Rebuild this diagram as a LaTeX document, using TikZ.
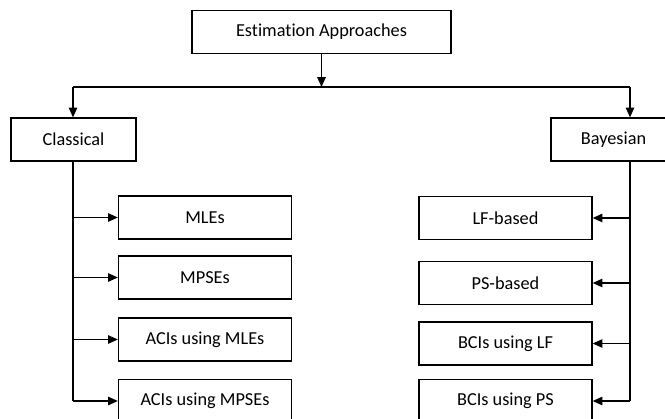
\documentclass[tikz,border=0pt]{standalone}
\usepackage{fontspec}
\setmainfont{Carlito}[Ligatures=NoCommon]
\usetikzlibrary{arrows.meta}

\begin{document}
\begin{tikzpicture}[x=0.025cm,y=-0.025cm,
        box/.style={draw,line width=1pt,minimum height=1.07cm,font=\fontsize{13}{15}\selectfont},
        headbox/.style={box,minimum width=6.47cm},
        groupbox/.style={box,minimum width=3.12cm},
        leafbox/.style={box,minimum width=4.32cm},
        conn/.style={line width=1pt,-{Triangle[length=7pt,width=6pt]}},
        trunk/.style={line width=1pt}]
    \useasboundingbox (0,0) rectangle (665,419);

    \node[headbox] (est) at (321.5,32) {Estimation Approaches};
    \node[groupbox] (cls) at (73.5,139.5) {Classical};
    \node[groupbox] (bay) at (613.5,139.5) {Bayesian};

    \node[leafbox] (mle) at (205,217.5) {MLEs};
    \node[leafbox] (mpse) at (205,277.5) {MPSEs};
    \node[leafbox] (acimle) at (205,339.5) {ACIs using MLEs};
    \node[leafbox] (acimpse) at (205,401) {ACIs using MPSEs};

    \node[leafbox] (lfb) at (505.5,218) {LF-based};
    \node[leafbox] (psb) at (505.5,283) {PS-based};
    \node[leafbox] (bcilf) at (505.5,343.5) {BCIs using LF};
    \node[leafbox] (bcips) at (505.5,401) {BCIs using PS};

    \coordinate (mid) at (321.5,87);
    \coordinate (lbus) at (73,87);
    \coordinate (rbus) at (630,87);

    \draw[conn] (est) -- (mid);
    \draw[trunk] (lbus) -- (rbus);
    \draw[conn] (lbus) -- (lbus |- cls.north);
    \draw[conn] (rbus) -- (rbus |- bay.north);

    % classical branch
    \draw[trunk] (lbus |- cls.south) -- (lbus |- acimpse);
    \foreach \leaf in {mle,mpse,acimle,acimpse}
        \draw[conn] (lbus |- \leaf) -- (\leaf.west);

    % bayesian branch
    \draw[trunk] (rbus |- bay.south) -- (rbus |- bcips);
    \foreach \leaf in {lfb,psb,bcilf,bcips}
        \draw[conn] (rbus |- \leaf) -- (\leaf.east);
\end{tikzpicture}
\end{document}
